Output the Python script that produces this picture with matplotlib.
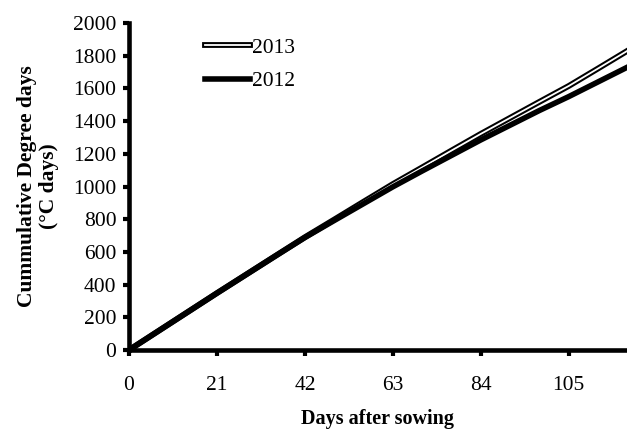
import matplotlib
matplotlib.use("Agg")
import matplotlib.pyplot as plt
import matplotlib.patheffects as pe

days = [0, 7, 14, 21, 28, 35, 42, 49, 56, 63, 70, 77, 84, 91, 98, 105, 112, 119]
gdd_2013 = [0, 116, 232, 348, 462, 576, 690, 798, 907, 1015, 1117, 1220, 1322,
            1420, 1518, 1615, 1722, 1830]
gdd_2012 = [0, 116, 232, 348, 462, 576, 688, 792, 895, 998, 1095, 1190, 1285,
            1375, 1465, 1550, 1640, 1730]
xticks = [0, 21, 42, 63, 84, 105]
yticks = list(range(0, 2001, 200))

plt.rcParams['font.family'] = ['Liberation Serif', 'DejaVu Serif']

fig = plt.figure(figsize=(6.27, 4.30), dpi=100)
ax = fig.add_axes([0.2057, 0.186, 0.7943, 0.7605])

ax.plot(days, gdd_2013, color='white', lw=1.3, label='2013', zorder=2,
        path_effects=[pe.Stroke(linewidth=4.2, foreground='black'), pe.Normal()])
ax.plot(days, gdd_2012, color='black', lw=4.0, label='2012', zorder=3)

ax.set_xlim(0, 118.9)
ax.set_ylim(0, 2000)
ax.set_xticks(xticks)
ax.set_yticks(yticks)
ax.tick_params(direction='out', length=4, width=3, labelsize=15.5)
ax.tick_params(axis='x', pad=15)
ax.tick_params(axis='y', pad=5)

for s in ['top', 'right']:
    ax.spines[s].set_visible(False)
for s in ['left', 'bottom']:
    ax.spines[s].set_linewidth(3.3)

ax.set_xlabel('Days after sowing', fontsize=14.5, fontweight='bold', labelpad=10)
ax.set_ylabel('Cummulative Degree days\n(°C days)', fontsize=15.5,
              fontweight='bold', labelpad=10, linespacing=1.15)

ax.legend(loc='upper left', bbox_to_anchor=(0.114, 1.014), frameon=False,
          fontsize=15.5, handlelength=2.1, handletextpad=0.1, labelspacing=0.62)

fig.savefig('out.png', dpi=100)
